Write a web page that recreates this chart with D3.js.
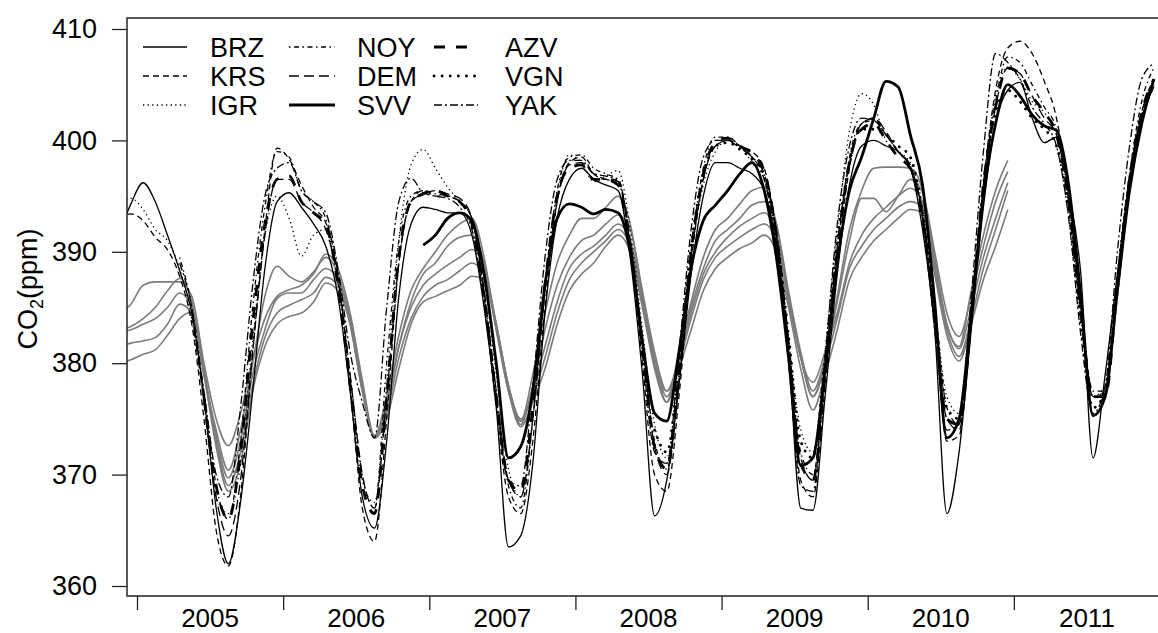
<!DOCTYPE html>
<html>
<head>
<meta charset="utf-8">
<script src="https://cdn.jsdelivr.net/npm/d3@7"></script>
<style>
  body { margin: 0; background: #fff; }
  svg text { font-family: "Liberation Sans", Arial, Helvetica, sans-serif; fill: #000; }
</style>
</head>
<body>
<svg id="chart" width="1158" height="633"></svg>
<script>
// ---- data : monthly CO2 (ppm), values start at the month given in firstMonth ----
const stations = ['BRZ', 'KRS', 'IGR', 'NOY', 'DEM', 'SVV', 'AZV', 'VGN', 'YAK'];
const yTicks = [360, 370, 380, 390, 400, 410];
const years = [2005, 2006, 2007, 2008, 2009, 2010, 2011];

const firstMonth = {
  BRZ: [2004, 11], KRS: [2004, 11], IGR: [2004, 11], NOY: [2005, 4], DEM: [2005, 5],
  SVV: [2006, 12], AZV: [2005, 6], VGN: [2008, 7], YAK: [2005, 4],
  G1: [2004, 11], G2: [2004, 11], G3: [2004, 11], G4: [2004, 11], G5: [2004, 11]
};

const BRZ = [391.5, 394.3,
  396.2, 394.5, 391.5, 388.3, 384.5, 377, 367, 362, 367.5, 377.5, 388.5, 394.5,
  395.3, 394, 392.5, 390.5, 386, 377.5, 368, 365.2, 373, 386, 392.5, 394,
  393.8, 393.5, 393.5, 391.5, 385, 376, 363.5, 364.5, 371, 384.5, 393, 396.5,
  397.5, 396.5, 396, 395.5, 389.5, 379, 366.3, 369.5, 378, 388, 395, 398,
  398, 397.5, 397, 395.5, 390.5, 381, 367, 366.8, 377, 388, 396, 399.5,
  400, 399.5, 399, 397.5, 392, 383, 366.5, 372, 383, 394, 401.5, 404.5,
  405.2, 402, 399.8, 400.3, 395.5, 388, 371.5, 379, 388, 396.5, 402, 404.8];

const KRS = [393.0, 393.4,
  392.8, 391.3, 390.2, 387.8, 383.5, 375, 365, 361.8, 368, 381, 392, 399.3,
  398.3, 396, 394, 392.6, 388, 378, 367, 364, 375, 389, 394.5, 395.5,
  395, 395, 394.5, 393, 386, 376, 368, 366.5, 373, 385, 394.5, 398,
  398.5, 397, 396.5, 396.5, 390.5, 380, 370, 368.5, 377, 389, 396.5, 399.5,
  400, 399.5, 399, 397.5, 391.5, 381, 369.5, 368, 378, 389, 397.5, 401.5,
  402, 400.5, 399, 397.5, 393.5, 384, 373, 373.5, 383.5, 396, 404.5, 408.3,
  408.9, 407.8, 405.3, 402, 395, 385, 377, 377.5, 386, 396, 402.5, 405.5];

const IGR = [394.2, 394.8,
  393.8, 392, 391, 388.5, 384, 376.5, 368, 366.5, 371, 382, 391.5, 395,
  393, 389.6, 391.5, 392, 387, 378, 369.5, 367.5, 378, 391, 397.8, 399.2,
  397.5, 395.8, 394.5, 393, 387.5, 379, 370.5, 368, 375, 387, 395, 398.7,
  398, 396.3, 396.8, 397.3, 392, 383, 374.5, 371.5, 378.5, 389.5, 396, 399,
  400, 399.5, 398, 396.5, 391, 382, 374, 372, 381, 392, 400.8, 404.2,
  403.2, 400, 399, 398, 394, 385, 377, 375.5, 384, 396, 404, 406.5,
  405.5, 403.5, 402.5, 400.5, 394, 384, 377, 378, 388, 397, 402.5, 405];

const NOY = [
  389.5, 385, 377, 369, 366, 373, 385, 394, 399,
  398.5, 395.5, 394.5, 393, 388, 379, 370, 367, 380, 391, 395, 395.5,
  395.2, 395, 394.5, 393, 386.5, 377, 369, 367, 375, 387, 395.5, 398.5,
  398.7, 397.5, 397, 396.5, 391, 382, 373, 370.5, 379, 390, 397.5, 400.3,
  400.3, 399.5, 398.5, 397, 392, 382, 372, 370, 379, 390, 398.5, 401.5,
  401.8, 400.5, 399, 397.5, 393.5, 385, 376, 374.5, 384, 396, 403.5, 407.5,
  407, 405, 403, 401, 395, 385, 377.5, 377.5, 387.5, 397, 403.5, 406.5];

const DEM = [
  384.5, 376.5, 368, 364.5, 369.5, 381, 391.5, 396.5,
  396.5, 394.5, 393.5, 392, 387.5, 379, 370, 367, 377, 389, 394.5, 395.2,
  395.5, 395.2, 394.8, 393, 386.5, 377.5, 369.5, 368, 375, 386.5, 394.5, 397.8,
  398, 397, 396.5, 396.3, 391, 382, 372.5, 370, 378.5, 389.5, 396.5, 399.5,
  400, 399.5, 398.5, 397, 391.5, 382, 371.5, 369.5, 379.5, 390.5, 398, 401.5,
  402, 400.8, 399, 397.8, 393, 384, 375, 374, 383.5, 395.5, 403, 406.5,
  406, 404, 402, 400.5, 394.5, 384.5, 377, 377, 387, 396.5, 402.5, 405];

const SVV = [390.6,
  391.5, 393, 393.5, 392.8, 388, 380, 371.5, 372.5, 377.5, 387, 393, 394.3,
  394, 393.4, 393.8, 393.5, 390, 382, 375.5, 374.8, 381, 388.5, 392.8, 394.2,
  395.5, 397, 398, 395.5, 389.5, 380.5, 370.8, 371.5, 379.5, 389, 395.5, 398.5,
  402, 405.3, 404.8, 400.5, 396, 385.5, 373.3, 375, 384.5, 395, 401.5, 405,
  404, 402.3, 401.3, 400.9, 396, 386, 375.3, 377, 386.5, 395.5, 401.5, 405.5];

const AZV = [
  377, 369, 366, 372, 383.5, 392.5, 396.5,
  396.8, 394.5, 393.5, 392.5, 387, 378, 369, 366.5, 377, 389.5, 394.5, 395.2,
  395.5, 395, 394.5, 392.5, 386, 377, 369.5, 368.5, 376, 387, 395, 397.5,
  397.8, 396.5, 396.5, 396, 390.5, 381.5, 372.5, 370.5, 379, 390, 397, 399.8,
  400.2, 399.5, 398.8, 397.2, 391.5, 381.5, 371, 369.5, 379, 390, 398, 401,
  401.5, 400, 398.5, 397.5, 393, 384, 375, 374.5, 384, 396, 403, 406.5,
  406, 404, 402.5, 400.5, 394.5, 384.5, 377, 377, 387, 396.5, 402.5, 405.5];

const VGN = [
  374, 372, 380, 390.5, 397, 399.5,
  399.8, 399.2, 398.3, 396.8, 391.5, 382.5, 373, 371.5, 380.5, 391, 398, 401,
  401, 400.5, 399.5, 398.5, 393.5, 385, 376, 375, 384.5, 396, 402.5, 404.5,
  403.5, 402, 401, 399.5, 393.5, 383.5, 376, 377.5, 387.5, 396.5, 402, 405];

const YAK = [
  389, 385, 377.5, 370, 368, 376, 387, 395, 397.5,
  398, 395.5, 394.5, 393.5, 388.5, 381, 376.5, 373.3, 385, 394.5, 396.6, 395.3,
  395, 394.8, 394, 392, 385.5, 376.5, 369.5, 369, 378, 389.5, 396.5, 398.2,
  398.2, 397, 396.8, 396.3, 390.5, 381, 372, 371, 381, 392, 398.5, 400,
  400, 399.3, 398.5, 396.5, 390.5, 380, 369, 368.5, 380.5, 392.5, 399.5, 402,
  401.8, 400.5, 399, 397.5, 393, 383, 374, 374.5, 386, 399, 407.8, 407,
  405.5, 403, 401.5, 399.5, 393, 382.5, 375.5, 378, 390, 399.5, 405.5, 406.9];

// grey curves (no legend entry)
const G1 = [384.5, 385.3,
  387, 387.3, 387.3, 387.3, 386, 380, 375, 372.6, 375.5, 380.3, 384, 386,
  386.6, 387, 388, 389.8, 388.5, 384.5, 378.5, 373.5, 377, 382.5, 386.5, 388.5,
  390, 391.5, 392.5, 393, 389.5, 383, 377.5, 374.8, 379, 384.5, 389, 391.5,
  393, 393, 394, 395, 392.5, 386, 380, 376.5, 381, 385.5, 389.5, 392,
  393, 394.3, 395.5, 395.8, 392.5, 386, 380.5, 377, 380, 386, 392, 395.5,
  397.5, 397.6, 397.6, 397.5, 395.5, 389.5, 383.5, 381.5, 386.5, 391.5, 395.5, 398.2];
const G2 = [383, 383.3,
  384, 385, 386.5, 387.6, 385.5, 379, 374, 370.4, 374, 380, 386, 388.7,
  387.8, 387.3, 388.2, 389.5, 388, 384, 378, 373.3, 376, 381.5, 385.5, 388,
  389, 390.5, 391.3, 391.5, 389, 383.5, 378, 374.5, 378, 383, 387, 389.5,
  391, 391.5, 392.5, 393.3, 392, 386.5, 381, 377.5, 380.5, 385, 388.5, 391,
  392, 393, 394.2, 394.5, 392.5, 386.5, 381, 377.5, 380.5, 385.5, 391, 394.8,
  394.8, 393.6, 395, 396.5, 395.3, 390, 384.5, 382.4, 386, 390.5, 394.5, 397.2];
const G3 = [382.8, 383,
  383.5, 384, 385, 386.3, 385, 379.5, 373.5, 369.7, 373, 379, 383, 385.8,
  386.3, 386.3, 387.5, 388.5, 387.5, 384, 378, 373.3, 376.5, 381.5, 385, 387,
  388, 388.8, 389.5, 390.2, 388.5, 383.5, 378, 374.8, 377.5, 381.5, 385.5, 388.5,
  389.8, 390.5, 391.5, 392.5, 391, 386, 380.5, 377, 380, 384.5, 388, 390,
  391.3, 392.3, 393, 393.5, 391.5, 386, 380.5, 378.3, 381, 384.5, 389, 391.5,
  393, 394, 395, 395.7, 394.5, 389, 383.5, 381.3, 385, 389.5, 393, 396.2];
const G4 = [381.5, 381.8,
  382, 382.3, 383.5, 385.3, 384.5, 379, 373, 369, 372, 378, 382.3, 384.5,
  385.2, 385.7, 386.3, 387.7, 387, 383.5, 377.5, 373.5, 375.5, 380.5, 384, 386,
  387, 387.5, 388.3, 389, 388, 383.5, 378, 375, 377, 380.5, 384.5, 387.5,
  389, 390, 391, 392, 390.5, 385.5, 380, 377.5, 380, 384, 387.5, 389.5,
  390.5, 391.3, 392, 392.5, 391, 385.5, 380.5, 377, 380, 384, 388.5, 390.5,
  392, 393, 394, 394.5, 394, 388.5, 383, 380.6, 384, 388.5, 392, 395.5];
const G5 = [380, 380.3,
  380.8, 381.2, 382.5, 384, 384.6, 379, 372.5, 368.5, 371, 377.5, 381.5, 383.5,
  384.2, 384.5, 385.5, 387.2, 386.5, 383.5, 377.5, 373.3, 375, 379.5, 383.5, 385.5,
  386, 386.5, 387, 387.8, 387.5, 383, 377.5, 374.3, 376.5, 379.5, 383.5, 386.5,
  388, 389, 390.5, 391.5, 390, 385, 379.5, 376.5, 379.5, 383, 386.5, 388.5,
  389.5, 390.3, 390.8, 391.5, 390, 385, 379.5, 375.8, 379, 383, 387.5, 389.5,
  391, 392, 393, 393.8, 393.5, 388, 382.5, 380.2, 383.5, 387.5, 390.5, 393.8];

const values = { BRZ, KRS, IGR, NOY, DEM, SVV, AZV, VGN, YAK, G1, G2, G3, G4, G5 };
const greys = ['G1', 'G2', 'G3', 'G4', 'G5'];

// ---- styles ----
const lineStyle = {
  BRZ: { w: 1.3, dash: null },
  KRS: { w: 1.3, dash: '6,4' },
  IGR: { w: 1.3, dash: '1.3,3.3' },
  NOY: { w: 1.3, dash: '1.5,3.5,5,3.5' },
  DEM: { w: 1.3, dash: '10,5' },
  SVV: { w: 2.8, dash: null },
  AZV: { w: 2.8, dash: '11,11' },
  VGN: { w: 2.8, dash: '0.1,8', cap: 'round' },
  YAK: { w: 1.3, dash: '8,3,2,3' }
};

const svg = d3.select('#chart');
const plot = { left: 127, top: 18, bottom: 596, right: 1200 };

const x = d3.scaleLinear().domain([2005, 2012]).range([137, 1160]);
const y = d3.scaleLinear().domain([360, 410]).range([586, 29]);

// turn a value array into [time, value] pairs
function series(name) {
  const [yr, mo] = firstMonth[name];
  return values[name].map((v, j) => [yr + (mo - 1 + j + 0.5) / 12, v]);
}

svg.append('clipPath').attr('id', 'clip')
  .append('rect')
  .attr('x', plot.left).attr('y', plot.top)
  .attr('width', plot.right - plot.left).attr('height', plot.bottom - plot.top);

const line = d3.line()
  .x(d => x(d[0]))
  .y(d => y(d[1]))
  .curve(d3.curveMonotoneX);

const g = svg.append('g').attr('clip-path', 'url(#clip)');

g.selectAll('.grey')
  .data(greys)
  .enter()
  .append('path')
  .attr('class', 'grey')
  .attr('d', d => line(series(d)))
  .attr('fill', 'none')
  .attr('stroke', '#7b7b7b')
  .attr('stroke-width', 1.6);

g.selectAll('.station')
  .data(stations)
  .enter()
  .append('path')
  .attr('class', 'station')
  .attr('d', d => line(series(d)))
  .attr('fill', 'none')
  .attr('stroke', '#000')
  .attr('stroke-width', d => lineStyle[d].w)
  .attr('stroke-dasharray', d => lineStyle[d].dash)
  .attr('stroke-linecap', d => lineStyle[d].cap || 'butt')
  .attr('stroke-linejoin', 'round');

// box
svg.append('rect')
  .attr('x', plot.left).attr('y', plot.top)
  .attr('width', plot.right - plot.left).attr('height', plot.bottom - plot.top)
  .attr('fill', 'none').attr('stroke', '#222').attr('stroke-width', 1.5);

// y axis
const yAxis = d3.axisLeft(y).tickValues(yTicks).tickSize(15).tickPadding(15);
svg.append('g')
  .attr('transform', `translate(${plot.left},0)`)
  .call(yAxis)
  .call(a => a.select('.domain').remove())
  .call(a => a.selectAll('line').attr('stroke', '#222').attr('stroke-width', 1.3))
  .call(a => a.selectAll('text')
    .attr('font-size', 27).attr('fill', '#000')
    .attr('font-family', '"Liberation Sans", Arial, sans-serif'));

// x axis: ticks at year boundaries, labels mid-year
const xAxis = d3.axisBottom(x).tickValues(years.concat([2012])).tickSize(14).tickFormat('');
svg.append('g')
  .attr('transform', `translate(0,${plot.bottom})`)
  .call(xAxis)
  .call(a => a.select('.domain').remove())
  .call(a => a.selectAll('line').attr('stroke', '#222').attr('stroke-width', 1.3));

svg.selectAll('.year')
  .data(years)
  .enter()
  .append('text')
  .attr('class', 'year')
  .attr('x', d => x(d + 0.5))
  .attr('y', 627)
  .attr('text-anchor', 'middle')
  .attr('font-size', 26)
  .text(d => d);

// y title
const title = svg.append('text')
  .attr('transform', 'translate(37,289) rotate(-90)')
  .attr('text-anchor', 'middle')
  .attr('font-size', 27);
title.append('tspan').text('CO');
title.append('tspan').attr('font-size', 18).attr('dy', 6).text('2');
title.append('tspan').attr('dy', -6).text('(ppm)');

// legend: 3 columns x 3 rows
const legCols = [{ x0: 143, x1: 187, tx: 210 }, { x0: 289, x1: 335, tx: 357 }, { x0: 434, x1: 478, tx: 505 }];
const legRows = [47, 76, 105];
const leg = svg.append('g').attr('class', 'legend');
stations.forEach((s, i) => {
  const c = legCols[Math.floor(i / 3)], r = legRows[i % 3];
  leg.append('line')
    .attr('x1', c.x0).attr('x2', c.x1).attr('y1', r).attr('y2', r)
    .attr('stroke', '#000')
    .attr('stroke-width', lineStyle[s].w)
    .attr('stroke-dasharray', lineStyle[s].dash)
    .attr('stroke-linecap', lineStyle[s].cap || 'butt');
  leg.append('text')
    .attr('x', c.tx).attr('y', r + 9.5)
    .attr('font-size', 27)
    .text(s);
});
</script>
</body>
</html>
